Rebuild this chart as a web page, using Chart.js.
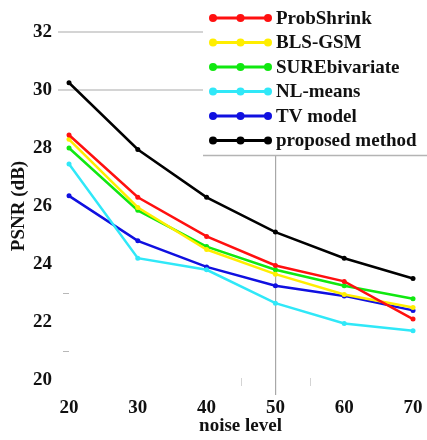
<!DOCTYPE html>
<html>
<head>
<meta charset="utf-8">
<script src="https://cdn.jsdelivr.net/npm/chart.js@4/dist/chart.umd.min.js"></script>
<style>
html,body{margin:0;padding:0;background:#fff;}
#wrap{width:427px;height:440px;}
</style>
</head>
<body>
<div id="wrap"><canvas id="c" width="427" height="440"></canvas></div>
<script>
// ---- data ----
const noiseLevels   = [20, 30, 40, 50, 60, 70];
const xTickValues   = [20, 30, 40, 50, 60, 70];
const yTickValues   = [20, 22, 24, 26, 28, 30, 32];
const seriesNames   = ['ProbShrink', 'BLS-GSM', 'SUREbivariate', 'NL-means', 'TV model', 'proposed method'];
const probShrink    = [28.45, 26.30, 24.95, 23.95, 23.40, 22.10];
const blsGsm        = [28.30, 25.95, 24.50, 23.65, 22.95, 22.50];
const sureBivariate = [28.00, 25.85, 24.60, 23.80, 23.25, 22.80];
const nlMeans       = [27.45, 24.20, 23.80, 22.65, 21.95, 21.70];
const tvModel       = [26.35, 24.80, 23.90, 23.25, 22.90, 22.40];
const proposed      = [30.25, 27.95, 26.30, 25.10, 24.20, 23.50];
const xAxisTitle = 'noise level';
const yAxisTitle = 'PSNR (dB)';

const seriesValues = [probShrink, blsGsm, sureBivariate, nlMeans, tvModel, proposed];
const seriesColors = ['#ff1010', '#ffee00', '#10e810', '#30e8f8', '#1010e0', '#000000'];

const FONT = "'Liberation Serif', 'Times New Roman', serif";

const datasets = seriesValues.map((vals, i) => ({
  label: seriesNames[i],
  data: noiseLevels.map((x, j) => ({x: x, y: vals[j]})),
  borderColor: seriesColors[i],
  backgroundColor: seriesColors[i],
  borderWidth: 2.5,
  pointRadius: 2.5,
  pointBorderWidth: 0,
  tension: 0
}));

const boxLegend = {
  id: 'boxLegend',
  afterDatasetsDraw(chart) {
    const ctx = chart.ctx;
    ctx.save();
    ctx.fillStyle = '#ffffff';
    ctx.fillRect(203, 0, 224, 155);
    ctx.strokeStyle = '#b4b4b4';
    ctx.lineWidth = 1.5;
    ctx.beginPath(); ctx.moveTo(203, 155.5); ctx.lineTo(427, 155.5); ctx.stroke();
    chart.data.datasets.forEach((ds, i) => {
      const y = 18 + i * 24.5;
      ctx.strokeStyle = ds.borderColor;
      ctx.fillStyle = ds.borderColor;
      ctx.lineWidth = 3;
      ctx.beginPath(); ctx.moveTo(213, y); ctx.lineTo(268, y); ctx.stroke();
      [213, 240.5, 268].forEach(px => {
        ctx.beginPath(); ctx.arc(px, y, 4, 0, Math.PI * 2); ctx.fill();
      });
      ctx.fillStyle = '#111';
      ctx.font = 'bold 19px ' + FONT;
      ctx.textBaseline = 'middle';
      ctx.textAlign = 'left';
      ctx.fillText(ds.label, 276, y + 1);
    });
    ctx.restore();
  }
};

const stubMarks = {
  id: 'stubMarks',
  beforeDatasetsDraw(chart) {
    const ctx = chart.ctx, xs = chart.scales.x, ys = chart.scales.y;
    ctx.save();
    ctx.strokeStyle = '#b8b8b8';
    ctx.lineWidth = 1;
    [23, 21].forEach(v => {
      const py = Math.round(ys.getPixelForValue(v)) + 0.5;
      ctx.beginPath(); ctx.moveTo(63, py); ctx.lineTo(69, py); ctx.stroke();
    });
    ctx.strokeStyle = '#d4d4d4';
    [45, 55].forEach(v => {
      const px = Math.round(xs.getPixelForValue(v)) + 0.5;
      ctx.beginPath(); ctx.moveTo(px, 378); ctx.lineTo(px, 386); ctx.stroke();
    });
    ctx.restore();
  }
};

new Chart(document.getElementById('c'), {
  type: 'line',
  data: { datasets: datasets },
  plugins: [stubMarks, boxLegend],
  options: {
    responsive: false,
    animation: false,
    layout: { padding: { top: 17.5, right: 2, left: 0, bottom: 0 } },
    plugins: { legend: { display: false }, tooltip: { enabled: false } },
    scales: {
      x: {
        type: 'linear',
        min: 18.4, max: 71.45,
        afterBuildTicks(s) { s.ticks = xTickValues.map(v => ({value: v})); },
        afterFit(s) { s.height = 45.5; },
        border: { display: false },
        grid: {
          drawTicks: false,
          color: c => (c.tick && c.tick.value === 50) ? '#a8a8a8' : 'rgba(0,0,0,0)',
          lineWidth: 1.2
        },
        ticks: { padding: 2, color: '#111', font: { family: FONT, size: 19, weight: 'bold' }, maxRotation: 0 },
        title: { display: true, text: xAxisTitle, color: '#111', font: { family: FONT, size: 19, weight: 'bold' }, padding: { top: 0, bottom: 3 } }
      },
      y: {
        type: 'linear',
        min: 19.5, max: 32.5,
        afterBuildTicks(s) { s.ticks = yTickValues.map(v => ({value: v})); },
        afterFit(s) { s.width = 58; },
        border: { display: false },
        grid: {
          drawTicks: false,
          color: c => (c.tick && (c.tick.value === 30 || c.tick.value === 32)) ? '#d4d4d4' : 'rgba(0,0,0,0)',
          lineWidth: 2
        },
        ticks: { padding: 6, color: '#111', font: { family: FONT, size: 19, weight: 'bold' } },
        title: { display: true, text: yAxisTitle, color: '#111', font: { family: FONT, size: 19, weight: 'bold' }, padding: { top: 8, bottom: 0 } }
      }
    }
  }
});
</script>
</body>
</html>
